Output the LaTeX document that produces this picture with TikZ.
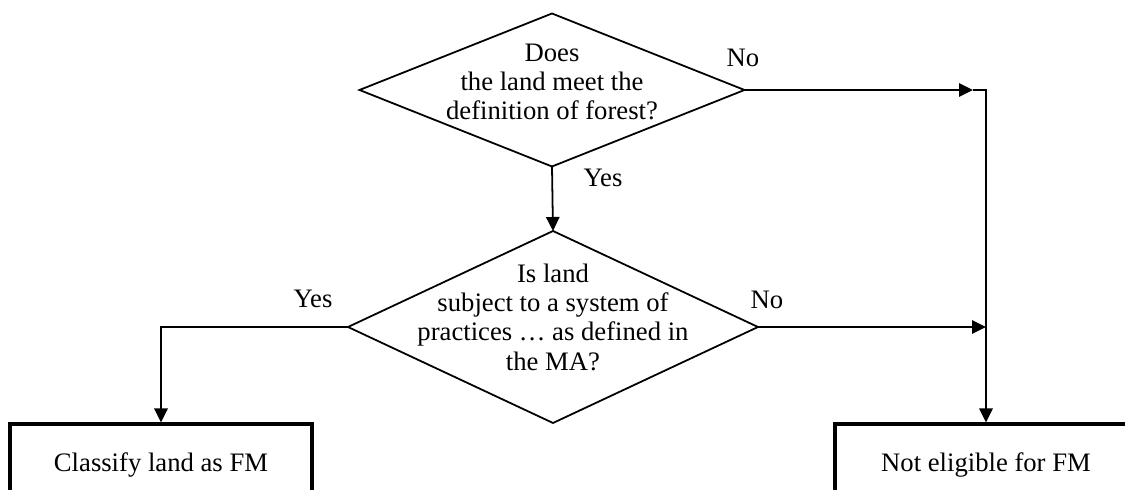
\documentclass[tikz,border=0pt]{standalone}
\usepackage{fontspec}
\setmainfont{Liberation Serif}
\usetikzlibrary{arrows.meta,shapes.geometric}

\begin{document}
\begin{tikzpicture}[x=0.45pt,y=-0.45pt,
    every node/.style={font=\fontsize{12}{13.2}\selectfont},
    question/.style={draw,shape=diamond,line width=0.8pt,inner sep=0pt,outer sep=0pt},
    qtext/.style={align=center,inner sep=0pt},
    result/.style={draw,rectangle,line width=1.4pt,minimum width=135.9pt,minimum height=36.9pt,inner sep=0pt},
    flow/.style={line width=0.8pt,-{Triangle[length=6.3pt,width=6pt]}}]
    \useasboundingbox (0,0) rectangle (1125,490);
    % questions
    \node[question,minimum width=173.25pt,minimum height=68.85pt] (q1) at (552,90) {};
    \node[qtext] (q1t) at (552,82) {Does\\the land meet the\\definition of forest?};
    \node[question,minimum width=184.5pt,minimum height=86.4pt] (q2) at (553,327) {};
    \node[qtext] (q2t) at (553,317) {Is land\\subject to a system of\\practices \dots\ as defined in\\the MA?};
    % outcomes
    \node[result] (fm) at (161,465) {Classify land as FM};
    \node[result] (nofm) at (986,465) {Not eligible for FM};
    \coordinate (c1) at (986,90);
    % connectors
    \draw[flow] (q1.south) -- (q2.north);
    \draw[flow] (q1.east) -- ([xshift=-5.85pt]c1);
    \draw[flow] ([xshift=-5.85pt]c1) -- (c1) -- (nofm.north);
    \draw[flow] (q2.east) -- (q2.east -| c1);
    \draw[flow] (q2.west) -| (fm.north);
    % answers
    \node (no1) at (743,58) {No};
    \node (yes1) at (603,178) {Yes};
    \node (no2) at (767,300) {No};
    \node (yes2) at (313,299) {Yes};
\end{tikzpicture}
\end{document}
